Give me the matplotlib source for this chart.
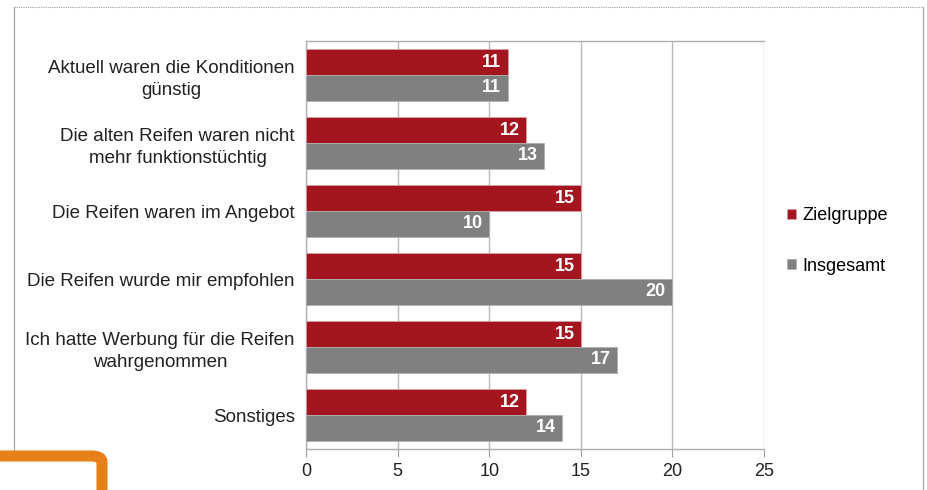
import matplotlib
matplotlib.use("Agg")
import matplotlib.pyplot as plt
from matplotlib.patches import FancyBboxPatch
from matplotlib.lines import Line2D
import numpy as np

plt.rcParams['font.family'] = ['Liberation Sans', 'DejaVu Sans']

categories = [
    "Aktuell waren die Konditionen\ngünstig",
    "Die alten Reifen waren nicht\nmehr funktionstüchtig",
    "Die Reifen waren im Angebot",
    "Die Reifen wurde mir empfohlen",
    "Ich hatte Werbung für die Reifen\nwahrgenommen",
    "Sonstiges",
]
zielgruppe = [11, 12, 15, 15, 15, 12]
insgesamt = [11, 13, 10, 20, 17, 14]
series_names = ["Zielgruppe", "Insgesamt"]
xticks = [0, 5, 10, 15, 20, 25]

RED = "#A3161F"
GRAY = "#808080"
FS = 13.5

fig = plt.figure(figsize=(9.28, 4.9), dpi=100)
ax = fig.add_axes([306/928, 41/490, 458/928, 408/490])

n = len(categories)
y = np.arange(n)
h = 0.38
b1 = ax.barh(y - h/2, zielgruppe, height=h, color=RED, edgecolor="#D9A0A3", linewidth=0.6, label=series_names[0], zorder=3)
b2 = ax.barh(y + h/2, insgesamt, height=h, color=GRAY, edgecolor="#B0B0B0", linewidth=0.6, label=series_names[1], zorder=3)

for bars, vals in ((b1, zielgruppe), (b2, insgesamt)):
    for bar, v in zip(bars, vals):
        ax.text(bar.get_width() - 0.35, bar.get_y() + bar.get_height()/2, str(v),
                ha="right", va="center", color="white", fontsize=13, fontweight="bold", zorder=4)

ax.set_ylim(n - 0.5, -0.5)
ax.set_xlim(0, 25)
ax.set_xticks(xticks)
ax.set_xticklabels([str(t) for t in xticks], fontsize=13, color="#222222")
ax.set_yticks(y)
ax.set_yticklabels(categories, fontsize=FS, color="#222222", multialignment="center", linespacing=1.4)
ax.tick_params(axis="y", length=0, pad=8)
ax.tick_params(axis="x", length=6, color="#A0A0A0", pad=4, direction="out")
ax.grid(axis="x", color="#B8B8B8", linewidth=1, zorder=0)
for s in ax.spines.values():
    s.set_color("#B0B0B0")
    s.set_linewidth(1)
ax.spines["right"].set_visible(False)

# legend
leg = fig.legend(handles=[b1, b2], labels=series_names, loc="upper left",
                 bbox_to_anchor=(771/928, 1 - 191/490), frameon=False, fontsize=13,
                 handlelength=0.5, handleheight=0.5, handletextpad=0.35, labelspacing=1.85)

# outer border
fig.add_artist(Line2D([14/928, 923/928], [1 - 7/490, 1 - 7/490], transform=fig.transFigure,
                      color="#A0A0A0", linewidth=0.8, linestyle=(0, (1, 1))))
fig.add_artist(Line2D([14/928, 14/928], [0, 1 - 7/490], transform=fig.transFigure,
                      color="#A8A8A8", linewidth=0.9))
fig.add_artist(Line2D([923/928, 923/928], [0, 1 - 7/490], transform=fig.transFigure,
                      color="#A8A8A8", linewidth=0.9))

# orange overlay box at bottom-left
fig.patches.append(FancyBboxPatch((-20/928, -20/490), (102+20)/928, (490-456+20)/490,
                                  boxstyle="round,pad=0,rounding_size=0.012",
                                  transform=fig.transFigure, facecolor="white",
                                  edgecolor="#E8801A", linewidth=8, zorder=5))

fig.savefig("out.png", dpi=100)
